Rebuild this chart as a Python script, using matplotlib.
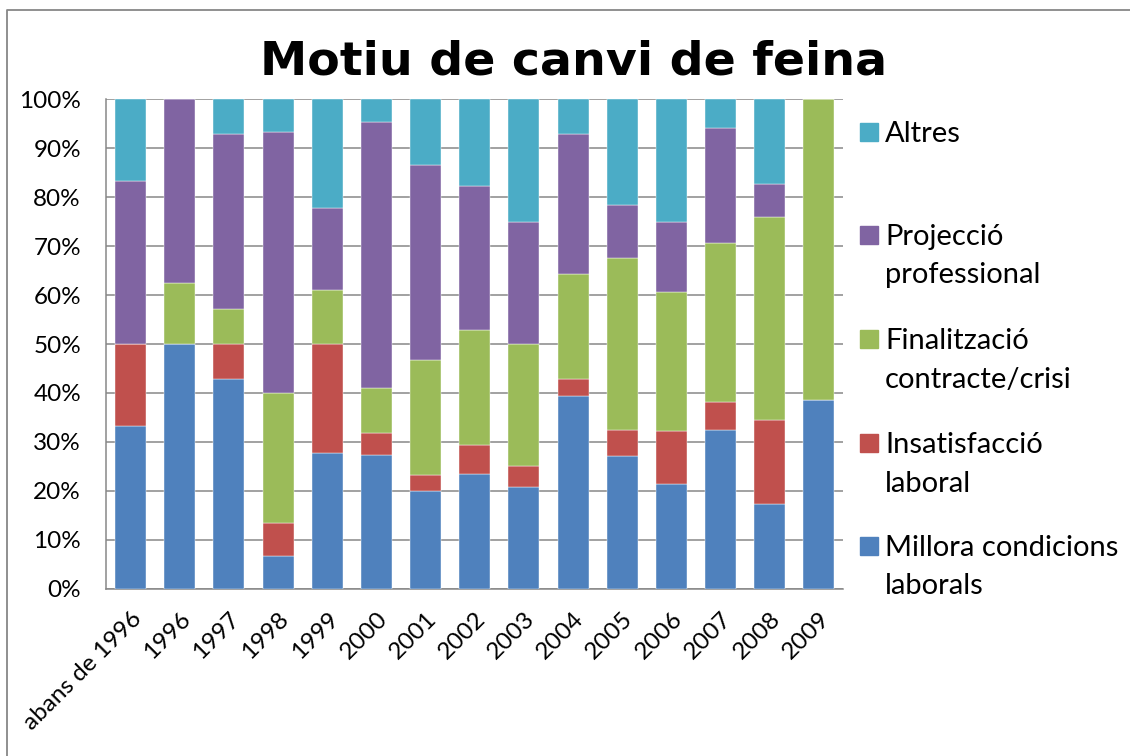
import numpy as np
import matplotlib
matplotlib.use("Agg")
import matplotlib.pyplot as plt
from matplotlib.patches import Rectangle
from matplotlib.lines import Line2D

W, H = 1130, 756

categories = ["abans de 1996", "1996", "1997", "1998", "1999", "2000", "2001",
              "2002", "2003", "2004", "2005", "2006", "2007", "2008", "2009"]

# percentages per category
millora = [33.33, 50.0, 42.86, 6.67, 27.78, 27.27, 20.0, 23.53, 20.83, 39.29, 27.03, 21.43, 32.35, 17.24, 38.46]
insatisfaccio = [16.67, 0.0, 7.14, 6.67, 22.22, 4.55, 3.33, 5.88, 4.17, 3.57, 5.41, 10.71, 5.88, 17.24, 0.0]
finalitzacio = [0.0, 12.5, 7.14, 26.67, 11.11, 9.09, 23.33, 23.53, 25.0, 21.43, 35.14, 28.57, 32.35, 41.38, 61.54]
projeccio = [33.33, 37.5, 35.71, 53.33, 16.67, 54.55, 40.0, 29.41, 25.0, 28.57, 10.81, 14.29, 23.53, 6.9, 0.0]
altres = [16.67, 0.0, 7.14, 6.67, 22.22, 4.55, 13.33, 17.65, 25.0, 7.14, 21.62, 25.0, 5.88, 17.24, 0.0]

series = [
    ("Millora condicions\nlaborals", millora, "#4F81BD"),
    ("Insatisfacció\nlaboral", insatisfaccio, "#C0504D"),
    ("Finalització\ncontracte/crisi", finalitzacio, "#9BBB59"),
    ("Projecció\nprofessional", projeccio, "#8064A2"),
    ("Altres", altres, "#4BACC6"),
]

font = ["Lato", "DejaVu Sans"]
grid_col = "#878787"

fig = plt.figure(figsize=(W / 100, H / 100), dpi=100)
ax = fig.add_axes([106 / W, 1 - 588.7 / H, 737.4 / W, 489.4 / H])

x = np.arange(len(categories))
bottom = np.zeros(len(categories))
for name, vals, col in series:
    vals = np.array(vals)
    ax.bar(x, vals, width=0.63, bottom=bottom, color=col, edgecolor="#ffffff", linewidth=0.3, zorder=3)
    bottom += vals

ax.set_xlim(-0.5, len(categories) - 0.5)
ax.set_ylim(0, 100)
ax.set_yticks(np.arange(0, 101, 10))
ax.set_yticklabels([f"{v}%" for v in range(0, 101, 10)], fontsize=17.5, family=font)
ax.set_xticks(x)
ax.set_xticklabels(categories, rotation=45, ha="right", va="top", rotation_mode="anchor",
                   fontsize=17.5, family=font)
ax.tick_params(axis="both", length=0)
ax.tick_params(axis="y", pad=18)
ax.tick_params(axis="x", pad=14)
ax.yaxis.grid(True, color=grid_col, linewidth=1.1, zorder=0)
ax.set_axisbelow(True)
for side in ["top", "right"]:
    ax.spines[side].set_visible(False)
for side in ["left", "bottom"]:
    ax.spines[side].set_color(grid_col)
    ax.spines[side].set_linewidth(1.1)

fig.text(574 / W, 1 - 62 / H, "Motiu de canvi de feina", ha="center", va="center",
         fontsize=34.2, fontweight="bold", family="DejaVu Sans")

# legend, drawn top to bottom in reverse stacking order
leg_base = [142, 245, 349, 453, 556]
line_gap = 38.5
for (name, vals, col), yb in zip(series[::-1], leg_base):
    fig.patches.append(Rectangle((860 / W, 1 - (yb - 1) / H), 18 / W, 18 / H, color=col,
                                 transform=fig.transFigure, figure=fig))
    for k, line in enumerate(name.split("\n")):
        fig.text(885 / W, 1 - (yb + k * line_gap) / H, line, ha="left", va="baseline",
                 fontsize=21, family=font)

# outer chart border
fig.lines.append(Line2D([7 / W, 7 / W, 1.0], [0.0, 1 - 10 / H, 1 - 10 / H],
                        color=grid_col, linewidth=1.3, transform=fig.transFigure, figure=fig))

fig.savefig("out.png", dpi=100, facecolor="white")
